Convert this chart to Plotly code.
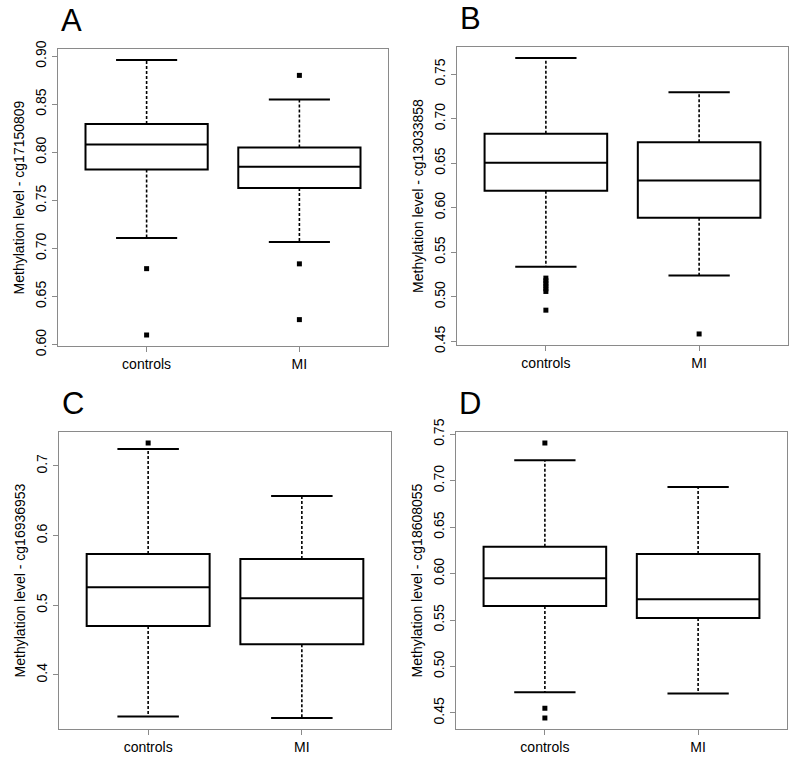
import plotly.graph_objects as go

W, H = 800, 759

groups = ["controls", "MI"]
probes = ["cg17150809", "cg13033858", "cg16936953", "cg18608055"]
letters = ["A", "B", "C", "D"]

# per panel: [controls, MI]
lower_whisker = [[0.711, 0.7066], [0.5337, 0.524], [0.3403, 0.338], [0.4723, 0.471]]
q1 = [[0.782, 0.763], [0.619, 0.5886], [0.4703, 0.444], [0.565, 0.5523]]
median = [[0.808, 0.785], [0.6505, 0.6306], [0.5257, 0.510], [0.595, 0.5724]]
q3 = [[0.8295, 0.805], [0.683, 0.6734], [0.5735, 0.5663], [0.629, 0.621]]
upper_whisker = [[0.896, 0.855], [0.768, 0.7297], [0.7244, 0.657], [0.722, 0.6933]]
outliers = [
    [[0.679, 0.610], [0.880, 0.684, 0.626]],
    [[0.521, 0.518, 0.515, 0.512, 0.509, 0.506, 0.485], [0.4583]],
    [[0.733], []],
    [[0.7406, 0.455, 0.4445], []],
]
ytickvals = [
    [0.60, 0.65, 0.70, 0.75, 0.80, 0.85, 0.90],
    [0.45, 0.50, 0.55, 0.60, 0.65, 0.70, 0.75],
    [0.4, 0.5, 0.6, 0.7],
    [0.45, 0.50, 0.55, 0.60, 0.65, 0.70, 0.75],
]
ytickformat = [".2f", ".2f", ".1f", ".2f"]

# panel frames in pixels (left, right, top, bottom)
frames = [(58, 388, 49, 346), (457, 788, 47, 345), (59, 391, 432, 729), (456, 787, 432, 729)]

FONT = "Liberation Sans, Arial, Helvetica, sans-serif"
GREY = "#8a8a8a"

fig = go.Figure()
layout = dict(
    width=W, height=H, margin=dict(l=0, r=0, t=0, b=0, pad=0, autoexpand=False),
    paper_bgcolor="white", plot_bgcolor="white", showlegend=False,
    font=dict(family=FONT, size=14, color="black"),
)
annotations = []

for p in range(4):
    xa = "x" if p == 0 else f"x{p+1}"
    ya = "y" if p == 0 else f"y{p+1}"
    for g in range(2):
        xc = g + 1
        # dashed whiskers
        fig.add_trace(go.Scatter(
            x=[xc, xc, None, xc, xc],
            y=[q3[p][g], upper_whisker[p][g], None, q1[p][g], lower_whisker[p][g]],
            mode="lines", line=dict(color="black", width=1.6, dash="3px,2px"),
            xaxis=xa, yaxis=ya, hoverinfo="skip"))
        # caps
        fig.add_trace(go.Scatter(
            x=[xc - 0.2, xc + 0.2, None, xc - 0.2, xc + 0.2],
            y=[upper_whisker[p][g], upper_whisker[p][g], None, lower_whisker[p][g], lower_whisker[p][g]],
            mode="lines", line=dict(color="black", width=2),
            xaxis=xa, yaxis=ya, hoverinfo="skip"))
        # box
        fig.add_trace(go.Box(
            x=[xc], q1=[q1[p][g]], median=[median[p][g]], q3=[q3[p][g]],
            lowerfence=[q1[p][g]], upperfence=[q3[p][g]],
            width=0.8, whiskerwidth=0, fillcolor="white",
            line=dict(color="black", width=2), boxpoints=False,
            xaxis=xa, yaxis=ya, name=groups[g]))
        # outliers
        if outliers[p][g]:
            fig.add_trace(go.Scatter(
                x=[xc] * len(outliers[p][g]), y=outliers[p][g], mode="markers",
                marker=dict(symbol="square", size=5, color="black", line=dict(width=0)),
                xaxis=xa, yaxis=ya))

    allv = lower_whisker[p] + upper_whisker[p] + [v for g in outliers[p] for v in g]
    lo, hi = min(allv), max(allv)
    ext = 0.04 * (hi - lo)
    l, r, t, b = frames[p]
    xkey = "xaxis" if p == 0 else f"xaxis{p+1}"
    ykey = "yaxis" if p == 0 else f"yaxis{p+1}"
    layout[xkey] = dict(
        domain=[l / W, r / W], anchor=ya, range=[0.42, 2.58], automargin=False,
        tickvals=[1, 2], ticktext=groups, ticks="outside", ticklen=5, tickwidth=1,
        tickcolor=GREY, showline=True, linecolor=GREY, linewidth=1, mirror=True,
        showgrid=False, zeroline=False, tickfont=dict(size=14, color="black"),
    )
    layout[ykey] = dict(
        domain=[1 - b / H, 1 - t / H], anchor=xa, range=[lo - ext, hi + ext], automargin=False,
        tickvals=ytickvals[p], tickformat=ytickformat[p], tickangle=-90,
        ticks="outside", ticklen=5, tickwidth=1, tickcolor=GREY,
        showline=True, linecolor=GREY, linewidth=1, mirror=True,
        showgrid=False, zeroline=False, tickfont=dict(size=14, color="black"),
        title=dict(text=f"Methylation level - {probes[p]}", font=dict(size=14, color="black"), standoff=5),
    )
    annotations.append(dict(
        text=letters[p], x=(l + 1) / W, y=1 - (t - 9) / H, xref="paper", yref="paper",
        xanchor="left", yanchor="bottom", showarrow=False,
        font=dict(size=31, color="black", family=FONT)))

layout["annotations"] = annotations
fig.update_layout(**layout)
fig.write_html("out.html", config={"displayModeBar": False},
               post_script="document.body.style.margin='0px';document.body.style.overflow='hidden';")
